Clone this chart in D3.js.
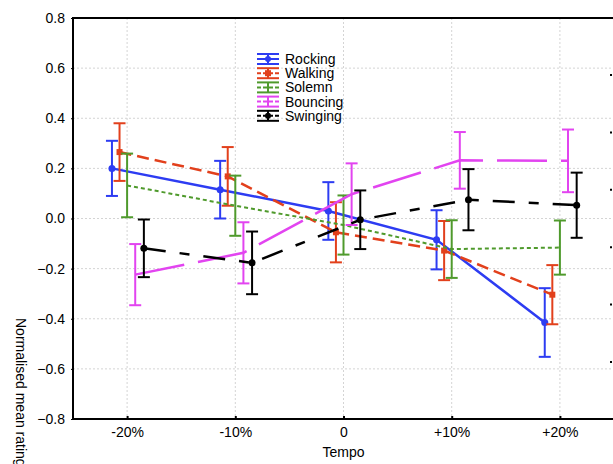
<!DOCTYPE html>
<html>
<head>
<meta charset="utf-8">
<script src="https://cdn.jsdelivr.net/npm/d3@7"></script>
<style>
  body { margin: 0; background: #fff; }
  text { font-family: "Liberation Sans", Arial, sans-serif; }
</style>
</head>
<body>
<div id="chart"></div>
<script>
// tempo categories (in % change)
var tempos = [-20, -10, 0, 10, 20];
var tempoLabels = ['-20%', '-10%', '0', '+10%', '+20%'];
var seriesNames = ['Rocking', 'Walking', 'Solemn', 'Bouncing', 'Swinging'];
// small horizontal shift per series so the error bars don't overlap
var seriesShift = [-1.4, -0.7, 0, 0.75, 1.55];

var rocking = [0.20, 0.115, 0.03, -0.085, -0.415];
var rockingErr = [0.11, 0.115, 0.115, 0.118, 0.137];
var walking = [0.265, 0.168, -0.055, -0.128, -0.304];
var walkingErr = [0.115, 0.117, 0.12, 0.118, 0.118];
var solemn = [0.132, 0.051, -0.026, -0.122, -0.116];
var solemnErr = [0.127, 0.12, 0.118, 0.115, 0.108];
var bouncing = [-0.224, -0.137, 0.097, 0.232, 0.23];
var bouncingErr = [0.122, 0.122, 0.123, 0.113, 0.125];
var swinging = [-0.119, -0.177, -0.005, 0.075, 0.053];
var swingingErr = [0.115, 0.125, 0.117, 0.122, 0.13];

var yTicks = [0.8, 0.6, 0.4, 0.2, 0.0, -0.2, -0.4, -0.6, -0.8];
var rightTicks = [0, 1, 2, 3, 4, 5];

var width = 613, height = 464;
var margin = {top: 18, right: -1, bottom: 45, left: 73};

var svg = d3.select("#chart").append("svg")
  .attr("width", width)
  .attr("height", height);

var x = d3.scaleLinear()
  .domain([-25, 25])
  .range([margin.left, width - margin.right]);

var y = d3.scaleLinear()
  .domain([-0.8, 0.8])
  .range([height - margin.bottom, margin.top]);

var yRight = d3.scaleLinear()
  .domain([0, 5])
  .range([75, 362]);

var allSeries = [
  {name: seriesNames[0], values: rocking, err: rockingErr, color: '#2d3cf2', dash: null, width: 2.5, marker: 'circle'},
  {name: seriesNames[1], values: walking, err: walkingErr, color: '#e2401c', dash: '12,6', width: 2.5, marker: 'square'},
  {name: seriesNames[2], values: solemn, err: solemnErr, color: '#4f9a2c', dash: '4,3', width: 2, marker: null},
  {name: seriesNames[3], values: bouncing, err: bouncingErr, color: '#e244f0', dash: '50,14', width: 2.5, marker: null},
  {name: seriesNames[4], values: swinging, err: swingingErr, color: '#000000', dash: '22,14,10,14', width: 2.5, marker: 'circle'}
];

// grid lines
svg.append("g").selectAll("line")
  .data(yTicks.slice(1, -1))
  .enter().append("line")
  .attr("x1", margin.left).attr("x2", width)
  .attr("y1", d => y(d)).attr("y2", d => y(d))
  .style("stroke", "#d4d4d4")
  .style("stroke-width", 1)
  .style("stroke-dasharray", "2,2");

svg.append("g").selectAll("line")
  .data(tempos)
  .enter().append("line")
  .attr("x1", d => x(d)).attr("x2", d => x(d))
  .attr("y1", margin.top).attr("y2", y(-0.8))
  .style("stroke", "#d4d4d4")
  .style("stroke-width", 1)
  .style("stroke-dasharray", "2,2");

// axes
var yAxis = d3.axisLeft(y)
  .tickValues(yTicks)
  .tickFormat(d3.format(".1f"))
  .tickSize(2)
  .tickPadding(6);

svg.append("g")
  .attr("transform", "translate(" + margin.left + ",0)")
  .call(yAxis)
  .call(g => g.select(".domain").remove())
  .call(g => g.selectAll("text").attr("font-size", "14px").attr("fill", "#000"));

var xAxis = d3.axisBottom(x)
  .tickValues(tempos)
  .tickFormat((d, i) => tempoLabels[i])
  .tickSizeInner(-3)
  .tickSizeOuter(0)
  .tickPadding(8);

svg.append("g")
  .attr("transform", "translate(0," + y(-0.8) + ")")
  .call(xAxis)
  .call(g => g.select(".domain").remove())
  .call(g => g.selectAll(".tick line").style("stroke-width", 2))
  .call(g => g.selectAll("text").attr("font-size", "14px").attr("fill", "#000"));

// right side tick marks (axis sits just beyond the cropped edge)
svg.append("g").selectAll("line")
  .data(rightTicks)
  .enter().append("line")
  .attr("x1", width - 3).attr("x2", width - 1)
  .attr("y1", d => yRight(d)).attr("y2", d => yRight(d))
  .style("stroke", "#000")
  .style("stroke-width", 2);

// frame
svg.append("line")
  .attr("x1", margin.left).attr("x2", width)
  .attr("y1", y(0.8)).attr("y2", y(0.8))
  .style("stroke", "#000").style("stroke-width", 2);
svg.append("line")
  .attr("x1", margin.left).attr("x2", width)
  .attr("y1", y(-0.8)).attr("y2", y(-0.8))
  .style("stroke", "#000").style("stroke-width", 2);
svg.append("line")
  .attr("x1", margin.left).attr("x2", margin.left)
  .attr("y1", y(0.8) - 1).attr("y2", y(-0.8) + 1)
  .style("stroke", "#000").style("stroke-width", 2);

// series
var line = d3.line()
  .x(d => x(d.t))
  .y(d => y(d.v));

allSeries.forEach(function(s, si) {
  var pts = tempos.map(function(t, i) {
    return {t: t + seriesShift[si], v: s.values[i], e: s.err[i]};
  });
  var g = svg.append("g");

  // error bars
  var eb = g.selectAll(".eb").data(pts).enter().append("g");
  eb.append("line")
    .attr("x1", d => x(d.t)).attr("x2", d => x(d.t))
    .attr("y1", d => y(d.v + d.e)).attr("y2", d => y(d.v - d.e));
  eb.append("line")
    .attr("x1", d => x(d.t) - 6).attr("x2", d => x(d.t) + 6)
    .attr("y1", d => y(d.v + d.e)).attr("y2", d => y(d.v + d.e));
  eb.append("line")
    .attr("x1", d => x(d.t) - 6).attr("x2", d => x(d.t) + 6)
    .attr("y1", d => y(d.v - d.e)).attr("y2", d => y(d.v - d.e));
  eb.selectAll("line")
    .style("stroke", s.color)
    .style("stroke-width", 2);

  g.append("path")
    .attr("d", line(pts))
    .style("fill", "none")
    .style("stroke", s.color)
    .style("stroke-width", s.width)
    .style("stroke-dasharray", s.dash);

  if (s.marker === 'circle') {
    g.selectAll(".m").data(pts).enter().append("circle")
      .attr("cx", d => x(d.t)).attr("cy", d => y(d.v))
      .attr("r", 3.5)
      .style("fill", s.color);
  } else if (s.marker === 'square') {
    g.selectAll(".m").data(pts).enter().append("rect")
      .attr("x", d => x(d.t) - 3).attr("y", d => y(d.v) - 3)
      .attr("width", 6).attr("height", 6)
      .style("fill", s.color);
  }
});

// legend
var legend = svg.append("g").attr("transform", "translate(257,59)");
allSeries.forEach(function(s, i) {
  var row = legend.append("g").attr("transform", "translate(0," + (i * 14.2) + ")");
  row.append("line").attr("x1", 0).attr("x2", 22).attr("y1", -5).attr("y2", -5);
  row.append("line").attr("x1", 0).attr("x2", 22).attr("y1", 5).attr("y2", 5);
  row.append("line").attr("x1", 11).attr("x2", 11).attr("y1", -5).attr("y2", 5);
  row.append("line").attr("x1", 0).attr("x2", 22).attr("y1", 0).attr("y2", 0)
    .style("stroke-dasharray", s.dash ? "4,2" : null);
  row.selectAll("line").style("stroke", s.color).style("stroke-width", 2);
  if (s.marker === 'circle') {
    row.append("circle").attr("cx", 11).attr("cy", 0).attr("r", 3).style("fill", s.color);
  } else if (s.marker === 'square') {
    row.append("rect").attr("x", 8).attr("y", -3).attr("width", 6).attr("height", 6).style("fill", s.color);
  }
  row.append("text")
    .attr("x", 28).attr("y", 5)
    .attr("font-size", "14px")
    .text(s.name);
});

// axis titles
svg.append("text")
  .attr("x", x(0)).attr("y", 457)
  .attr("text-anchor", "middle")
  .attr("font-size", "14px")
  .text("Tempo");

svg.append("text")
  .attr("transform", "translate(16,318) rotate(90)")
  .attr("font-size", "14px")
  .text("Normalised mean rating");
</script>
</body>
</html>
